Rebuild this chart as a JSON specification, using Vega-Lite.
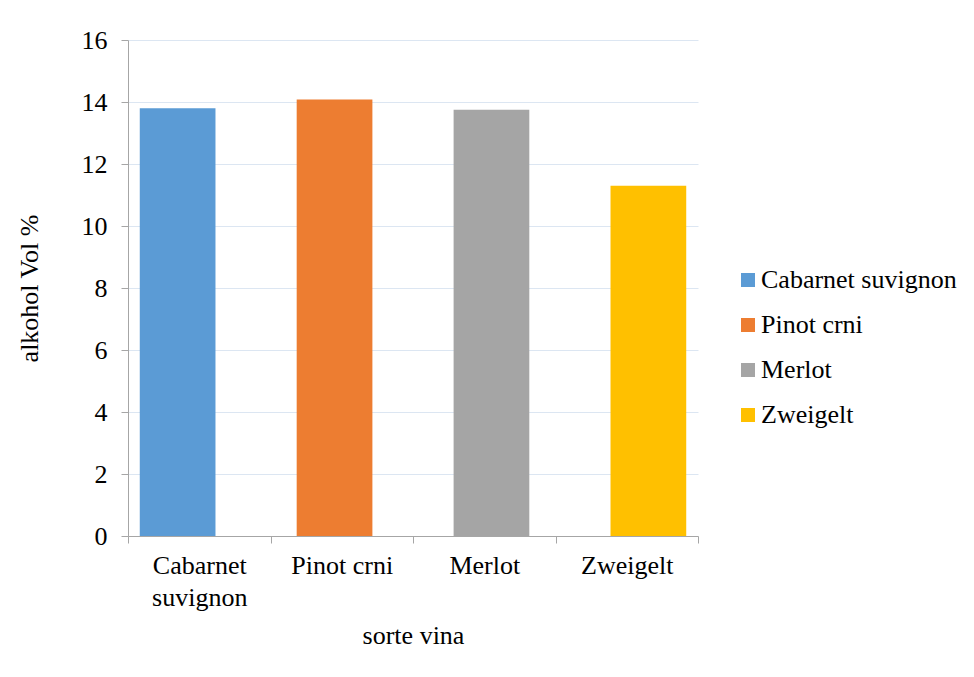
{
  "$schema": "https://vega.github.io/schema/vega-lite/v6.json",
  "width": 570,
  "height": 496,
  "autosize": "none",
  "padding": {"left": 128, "top": 40, "right": 276, "bottom": 141},
  "background": "white",
  "config": {"view": {"stroke": null}, "font": "Liberation Serif"},
  "data": {
    "values": [
      {"sorte": "Cabarnet suvignon", "alkohol": 13.8},
      {"sorte": "Pinot crni", "alkohol": 14.08},
      {"sorte": "Merlot", "alkohol": 13.75},
      {"sorte": "Zweigelt", "alkohol": 11.3}
    ]
  },
  "layer": [
    {
      "mark": {"type": "bar"},
      "encoding": {
        "x": {
          "field": "sorte", "type": "nominal", "sort": null,
          "scale": {"paddingInner": 0.5175, "paddingOuter": 0.075},
          "axis": null
        },
        "y": {
          "field": "alkohol", "type": "quantitative",
          "scale": {"domain": [0, 16]},
          "axis": {
            "values": [0, 2, 4, 6, 8, 10, 12, 14, 16],
            "grid": true, "gridColor": "#DCE6F2", "gridWidth": 1,
            "domainColor": "#A6A6A6", "tickColor": "#A6A6A6", "tickSize": 7,
            "labelFont": "Liberation Serif",
            "labelFontSize": 26, "labelColor": "#000000", "labelPadding": 14,
            "title": "alkohol Vol %", "titleFont": "Liberation Serif", "titleFontSize": 26, "titleFontWeight": "normal",
            "titleColor": "#000000", "titlePadding": 39
          }
        },
        "color": {
          "field": "sorte", "type": "nominal", "sort": null,
          "scale": {
            "domain": ["Cabarnet suvignon", "Pinot crni", "Merlot", "Zweigelt"],
            "range": ["#5B9BD5", "#ED7D31", "#A5A5A5", "#FFC000"]
          },
          "legend": {
            "title": null, "orient": "none", "legendX": 607, "legendY": 227,
            "padding": 0, "symbolType": "square", "symbolSize": 196,
            "symbolStrokeWidth": 0, "labelFont": "Liberation Serif", "labelFontSize": 26, "labelColor": "#000000",
            "labelOffset": 0, "rowPadding": 19, "labelLimit": 400
          }
        }
      }
    },
    {
      "mark": {"type": "rule", "opacity": 0},
      "encoding": {
        "x": {
          "field": "sorte", "type": "nominal", "sort": null,
          "scale": {"paddingInner": 0, "paddingOuter": 0},
          "axis": {
            "labelAngle": 0, "tickBand": "extent", "grid": false,
            "domainColor": "#A6A6A6", "tickColor": "#A6A6A6", "tickSize": 7,
            "labelFont": "Liberation Serif",
            "labelFontSize": 26, "labelColor": "#000000", "labelPadding": 9,
            "labelLineHeight": 32,
            "labelExpr": "datum.value == 'Cabarnet suvignon' ? ['Cabarnet', 'suvignon'] : datum.label",
            "title": "sorte vina", "titleFont": "Liberation Serif", "titleFontSize": 26, "titleFontWeight": "normal",
            "titleColor": "#000000", "titlePadding": 12
          }
        }
      }
    }
  ],
  "resolve": {"scale": {"x": "independent"}}
}
